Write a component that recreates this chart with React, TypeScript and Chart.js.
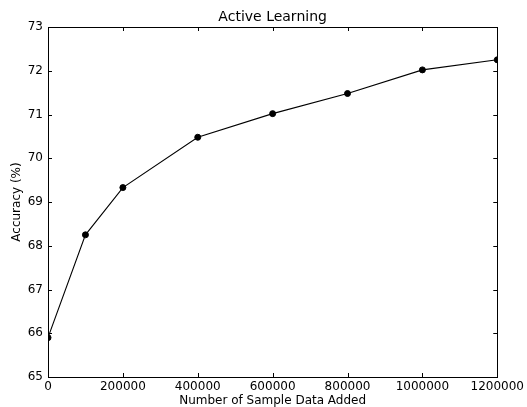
import React, { useEffect, useRef } from "react";
import { Chart, registerables } from "chart.js";

Chart.register(...registerables);

const sampleCounts = [0, 100000, 200000, 400000, 600000, 800000, 1000000, 1200000];
const accuracy = [65.9, 68.25, 69.33, 70.48, 71.02, 71.48, 72.02, 72.25];
const xTicks = [0, 200000, 400000, 600000, 800000, 1000000, 1200000];
const yTicks = [65, 66, 67, 68, 69, 70, 71, 72, 73];
const titleText = "Active Learning";
const xLabel = "Number of Sample Data Added";
const yLabel = "Accuracy (%)";

const FONT = "'DejaVu Sans', sans-serif";

const framePlugin = {
  id: "frame",
  afterDraw(chart: any) {
    const { ctx, chartArea: a, scales } = chart;
    ctx.save();
    ctx.strokeStyle = "#000";
    ctx.lineWidth = 1;
    ctx.strokeRect(Math.round(a.left) + 0.5, Math.round(a.top) + 0.5, Math.round(a.right - a.left), Math.round(a.bottom - a.top));
    const tl = 4;
    ctx.beginPath();
    for (const v of xTicks) {
      const x = Math.round(scales.x.getPixelForValue(v)) + 0.5;
      ctx.moveTo(x, a.bottom);
      ctx.lineTo(x, a.bottom - tl);
      ctx.moveTo(x, a.top);
      ctx.lineTo(x, a.top + tl);
    }
    for (const v of yTicks) {
      const y = Math.round(scales.y.getPixelForValue(v)) + 0.5;
      ctx.moveTo(a.left, y);
      ctx.lineTo(a.left + tl, y);
      ctx.moveTo(a.right, y);
      ctx.lineTo(a.right - tl, y);
    }
    ctx.stroke();
    ctx.fillStyle = "#000";
    ctx.textAlign = "center";
    ctx.textBaseline = "middle";
    const cx = (a.left + a.right) / 2;
    const cy = (a.top + a.bottom) / 2;
    ctx.font = `14px ${FONT}`;
    ctx.fillText(titleText, cx, 17);
    ctx.font = `12px ${FONT}`;
    ctx.fillText(xLabel, cx, 401);
    ctx.translate(17, cy);
    ctx.rotate(-Math.PI / 2);
    ctx.fillText(yLabel, 0, 0);
    ctx.restore();
  },
};

export default function App() {
  const ref = useRef<HTMLCanvasElement>(null);
  useEffect(() => {
    const chart = new Chart(ref.current!, {
      type: "line",
      data: {
        datasets: [
          {
            data: sampleCounts.map((x, i) => ({ x, y: accuracy[i] })),
            borderColor: "#000",
            backgroundColor: "#000",
            borderWidth: 1.1,
            pointRadius: 3,
            pointBorderWidth: 1,
            pointBackgroundColor: "#000",
            pointBorderColor: "#000",
            tension: 0,
            clip: 0,
          } as any,
        ],
      },
      options: {
        responsive: false,
        animation: false,
        layout: { padding: { top: 27, right: 27, left: 0, bottom: 0 } },
        plugins: { legend: { display: false }, tooltip: { enabled: false }, title: { display: false } },
        scales: {
          x: {
            type: "linear",
            min: 0,
            max: 1200000,
            afterFit: (s: any) => { s.height = 30; },
            afterBuildTicks: (s: any) => { s.ticks = xTicks.map((v) => ({ value: v })); },
            grid: { display: false, drawTicks: false },
            border: { display: false },
            ticks: {
              color: "#000",
              font: { family: FONT, size: 12 },
              padding: 3,
              maxRotation: 0,
              autoSkip: false,
              callback: (v: any) => String(v),
            },
          },
          y: {
            type: "linear",
            min: 65,
            max: 73,
            afterFit: (s: any) => { s.width = 48; },
            afterBuildTicks: (s: any) => { s.ticks = yTicks.map((v) => ({ value: v })); },
            grid: { display: false, drawTicks: false },
            border: { display: false },
            ticks: {
              color: "#000",
              font: { family: FONT, size: 12 },
              padding: 5,
              autoSkip: false,
              callback: (v: any) => String(v),
            },
          },
        },
      },
      plugins: [framePlugin],
    });
    return () => chart.destroy();
  }, []);
  return (
    <div style={{ position: "fixed", left: 0, top: 0, width: 527, height: 407, background: "#fff" }}>
      <canvas ref={ref} width={527} height={407} style={{ width: 527, height: 407 }} />
    </div>
  );
}
